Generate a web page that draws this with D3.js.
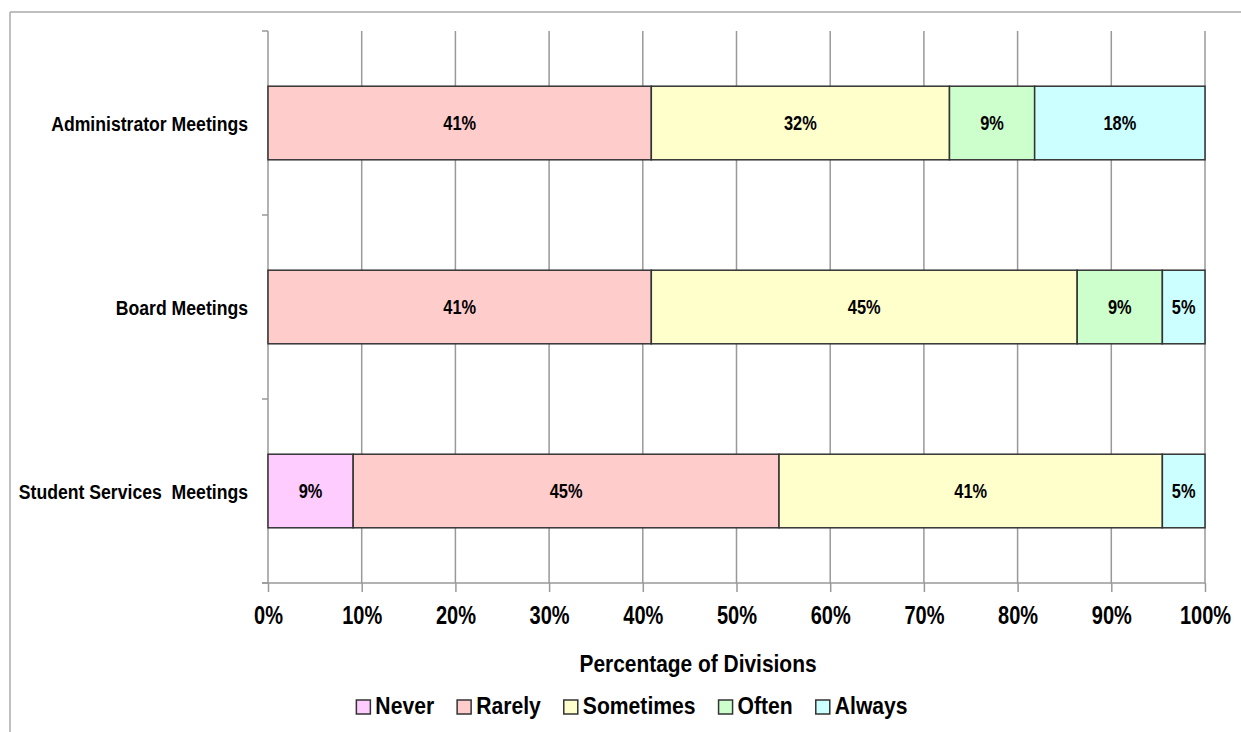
<!DOCTYPE html>
<html>
<head>
<meta charset="utf-8">
<script src="https://cdn.jsdelivr.net/npm/d3@7"></script>
<style>
  body { margin: 0; background: #fff; }
  svg text { font-family: "Liberation Sans", Arial, sans-serif; font-weight: bold; fill: #000; }
</style>
</head>
<body>
<svg width="1241" height="732"></svg>
<script>
// data
var categories = ["Administrator Meetings", "Board Meetings", "Student Services  Meetings"]
var seriesNames = ["Never", "Rarely", "Sometimes", "Often", "Always"]
var seriesColors = ["#ffccff", "#ffcccc", "#ffffcc", "#ccffcc", "#ccffff"]
var never     = [0, 0, 9.09]
var rarely    = [40.91, 40.91, 45.45]
var sometimes = [31.82, 45.45, 40.91]
var often     = [9.09, 9.09, 0]
var always    = [18.18, 4.55, 4.55]
var xTicks = [0, 10, 20, 30, 40, 50, 60, 70, 80, 90, 100]

var seriesValues = [never, rarely, sometimes, often, always]

var rows = categories.map(function(c, i) {
  var row = {cat: c}
  seriesNames.forEach(function(s, j) { row[s] = seriesValues[j][i] })
  return row
})

var svg = d3.select("svg")

// plot box (window.top is taken, so prefixed names)
var pLeft = 268, pRight = 1205, pTop = 31, pBottom = 583
var narrow = 0.8   // the source font is a condensed bold

var x = d3.scaleLinear().domain([0, 100]).range([pLeft, pRight])
var y = d3.scaleBand().domain(categories).range([pTop, pBottom])
          .paddingInner(0.6).paddingOuter(0.3)
var color = d3.scaleOrdinal().domain(seriesNames).range(seriesColors)

// outer frame
svg.append("line").attr("x1", 10).attr("x2", 1241).attr("y1", 12).attr("y2", 12)
   .attr("stroke", "#aaa").attr("stroke-width", 1.5)
svg.append("line").attr("x1", 10).attr("x2", 10).attr("y1", 12).attr("y2", 732)
   .attr("stroke", "#aaa").attr("stroke-width", 1.5)

// gridlines
svg.append("g").selectAll("line").data(xTicks.slice(1)).enter().append("line")
   .attr("x1", function(d) { return x(d) }).attr("x2", function(d) { return x(d) })
   .attr("y1", pTop).attr("y2", pBottom)
   .attr("stroke", "#999").attr("stroke-width", 1.5)

// x axis
var xAxis = d3.axisBottom(x).tickValues(xTicks)
    .tickSize(9).tickPadding(14)
    .tickFormat(function(d) { return d + "%" })
var gx = svg.append("g").attr("transform", "translate(0," + pBottom + ")").call(xAxis)
gx.select(".domain").remove()
gx.selectAll(".tick line").attr("stroke", "#999").attr("stroke-width", 1.5)
gx.selectAll(".tick text").attr("font-size", 25).attr("fill", "#000")
  .attr("transform", "scale(" + narrow + ",1)")

svg.append("line").attr("x1", pLeft - 6).attr("x2", pRight).attr("y1", pBottom).attr("y2", pBottom)
   .attr("stroke", "#999").attr("stroke-width", 1.5)

// left axis, ticks sit between the bands
var step = y.step()
var yEdges = d3.range(categories.length + 1).map(function(i) { return pTop + i * step })
svg.append("line").attr("x1", pLeft).attr("x2", pLeft).attr("y1", pTop).attr("y2", pBottom)
   .attr("stroke", "#999").attr("stroke-width", 1.5)
svg.append("g").selectAll("line").data(yEdges).enter().append("line")
   .attr("x1", pLeft - 6).attr("x2", pLeft)
   .attr("y1", function(d) { return d }).attr("y2", function(d) { return d })
   .attr("stroke", "#999").attr("stroke-width", 1.5)

// bars
var stacked = d3.stack().keys(seriesNames)(rows)

var layer = svg.append("g").selectAll("g").data(stacked).enter().append("g")
    .attr("fill", function(d) { return color(d.key) })

var segs = function(d) { return d.filter(function(p) { return p[1] - p[0] > 0 }) }

layer.selectAll("rect").data(segs).enter().append("rect")
    .attr("x", function(d) { return x(d[0]) })
    .attr("y", function(d) { return y(d.data.cat) })
    .attr("width", function(d) { return x(d[1]) - x(d[0]) })
    .attr("height", y.bandwidth())
    .attr("stroke", "#333").attr("stroke-width", 1.5)

layer.selectAll("text").data(segs).enter().append("text")
    .attr("transform", function(d) {
      return "translate(" + (x(d[0]) + x(d[1])) / 2 + "," + (y(d.data.cat) + y.bandwidth() / 2) + ") scale(0.82,1)"
    })
    .attr("dy", "0.36em")
    .attr("text-anchor", "middle")
    .attr("font-size", 20)
    .text(function(d) { return Math.round(d[1] - d[0]) + "%" })

// category labels
svg.append("g").selectAll("text").data(categories).enter().append("text")
   .attr("transform", function(d) {
     return "translate(248," + (y(d) + y.bandwidth() / 2) + ") scale(0.84,1)"
   })
   .attr("dy", "0.36em")
   .attr("text-anchor", "end")
   .attr("font-size", 21)
   .style("white-space", "pre")
   .text(function(d) { return d })

// axis title
svg.append("text")
   .attr("transform", "translate(698,672) scale(0.91,1)")
   .attr("text-anchor", "middle")
   .attr("font-size", 23)
   .text("Percentage of Divisions")

// legend
var legend = svg.append("g")
var lx = 0
seriesNames.forEach(function(s) {
  var g = legend.append("g").attr("transform", "translate(" + lx + ",0)")
  g.append("rect").attr("x", 0).attr("y", 700).attr("width", 14).attr("height", 14)
   .attr("fill", color(s)).attr("stroke", "#333").attr("stroke-width", 1.5)
  var t = g.append("text").attr("transform", "translate(19,714) scale(0.92,1)")
   .attr("font-size", 23).text(s)
  lx += 19 + t.node().getComputedTextLength() * 0.92 + 23
})
lx -= 23
legend.attr("transform", "translate(" + (632 - lx / 2) + ",0)")
</script>
</body>
</html>
